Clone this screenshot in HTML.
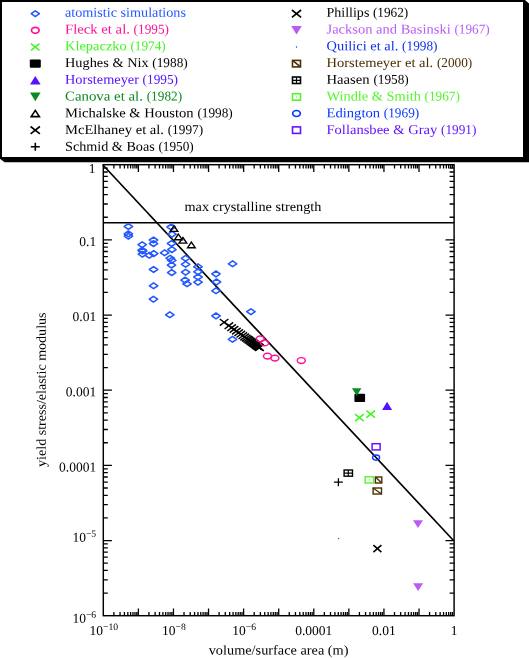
<!DOCTYPE html>
<html><head><meta charset="utf-8"><title>yield stress vs volume/surface area</title>
<style>html,body{margin:0;padding:0;background:#fff}svg{display:block}text{font-family:"Liberation Serif","Times New Roman",serif;font-size:13.5px}.tk{font-size:13.5px}.sup{font-size:9.7px}</style></head><body>
<svg width="529" height="658" viewBox="0 0 529 658">
<rect width="529" height="658" fill="#fff"/>
<polygon points="525,0 529,3.6 529,162.2 4.6,162.2 0,158.8 525,158.8" fill="#000"/>
<rect x="1" y="1" width="523" height="157" fill="#fff" stroke="#000" stroke-width="2"/>
<polygon points="31.2,13.7 35.3,10.8 39.4,13.7 35.3,16.6" fill="none" stroke="#2458ff" stroke-width="1.5" stroke-linejoin="round"/>
<text transform="translate(65.00,16.80) rotate(0.03) scale(1.0515,1)" fill="#2458ff" xml:space="preserve">atomistic simulations</text>
<ellipse cx="35.3" cy="30.3" rx="3.8" ry="3.0" fill="none" stroke="#ff0f96" stroke-width="1.7"/>
<text transform="translate(65.00,33.54) rotate(0.03) scale(1.0892,1)" fill="#ff0f96" xml:space="preserve">Fleck et al. </text><text transform="translate(133.60,33.54) rotate(0.03) scale(0.985,1)" fill="#ff0f96">(1995)</text>
<path d="M31.0 43.6L39.5 50.4M31.0 50.4L39.5 43.6" fill="none" stroke="#44f520" stroke-width="1.55"/>
<text transform="translate(65.00,50.28) rotate(0.03) scale(1.0705,1)" fill="#44f520" xml:space="preserve">Klepaczko </text><text transform="translate(130.40,50.28) rotate(0.03) scale(0.985,1)" fill="#44f520">(1974)</text>
<rect x="29.8" y="59.4" width="11.0" height="8.4" rx="1" fill="#000"/>
<text transform="translate(65.00,67.02) rotate(0.03) scale(1.0631,1)" fill="#000" xml:space="preserve">Hughes &amp; Nix </text><text transform="translate(152.30,67.02) rotate(0.03) scale(0.985,1)" fill="#000">(1988)</text>
<polygon points="35.3,76.0 40.6,84.6 30.0,84.6" fill="#5510ff"/>
<text transform="translate(65.00,83.76) rotate(0.03) scale(1.0616,1)" fill="#5510ff" xml:space="preserve">Horstemeyer </text><text transform="translate(142.60,83.76) rotate(0.03) scale(0.985,1)" fill="#5510ff">(1995)</text>
<polygon points="30.0,92.6 40.6,92.6 35.3,101.2" fill="#0a8a22"/>
<text transform="translate(65.00,100.50) rotate(0.03) scale(1.1007,1)" fill="#0a8a22" xml:space="preserve">Canova et al. </text><text transform="translate(146.70,100.50) rotate(0.03) scale(0.985,1)" fill="#0a8a22">(1982)</text>
<polygon points="35.3,110.4 39.4,116.6 31.2,116.6" fill="none" stroke="#000" stroke-width="1.6" stroke-linejoin="miter"/>
<text transform="translate(65.00,117.24) rotate(0.03) scale(1.0798,1)" fill="#000" xml:space="preserve">Michalske &amp; Houston </text><text transform="translate(197.40,117.24) rotate(0.03) scale(0.985,1)" fill="#000">(1998)</text>
<path d="M30.6 126.5L39.9 133.8M30.6 133.8L39.9 126.5" fill="none" stroke="#000" stroke-width="1.6"/>
<text transform="translate(65.00,133.98) rotate(0.03) scale(1.0786,1)" fill="#000" xml:space="preserve">McElhaney et al. </text><text transform="translate(167.70,133.98) rotate(0.03) scale(0.985,1)" fill="#000">(1997)</text>
<path d="M30.8 146.8H39.8M35.3 142.8V150.8" fill="none" stroke="#000" stroke-width="1.6"/>
<text transform="translate(65.00,150.72) rotate(0.03) scale(1.0509,1)" fill="#000" xml:space="preserve">Schmid &amp; Boas </text><text transform="translate(158.40,150.72) rotate(0.03) scale(0.985,1)" fill="#000">(1950)</text>
<path d="M291.9 10.0L301.1 17.3M291.9 17.3L301.1 10.0" fill="none" stroke="#000" stroke-width="1.6"/>
<text transform="translate(326.50,16.80) rotate(0.03) scale(1.0394,1)" fill="#000" xml:space="preserve">Phillips </text><text transform="translate(372.90,16.80) rotate(0.03) scale(0.985,1)" fill="#000">(1962)</text>
<polygon points="291.2,26.0 301.8,26.0 296.5,34.6" fill="#b85cf5"/>
<text transform="translate(326.50,33.54) rotate(0.03) scale(1.076,1)" fill="#b85cf5" xml:space="preserve">Jackson and Basinski </text><text transform="translate(454.40,33.54) rotate(0.03) scale(0.985,1)" fill="#b85cf5">(1967)</text>
<circle cx="296.5" cy="47.0" r="0.7" fill="#1030e8"/>
<text transform="translate(326.50,50.28) rotate(0.03) scale(1.0726,1)" fill="#1030e8" xml:space="preserve">Quilici et al. </text><text transform="translate(402.10,50.28) rotate(0.03) scale(0.985,1)" fill="#1030e8">(1998)</text>
<rect x="292.5" y="60.4" width="8.0" height="6.5" fill="none" stroke="#4a3005" stroke-width="1.6"/><path d="M292.5 60.4L300.5 66.9" stroke="#4a3005" stroke-width="1.6"/>
<text transform="translate(326.50,67.02) rotate(0.03) scale(1.0749,1)" fill="#4a3005" xml:space="preserve">Horstemeyer et al. </text><text transform="translate(436.90,67.02) rotate(0.03) scale(0.985,1)" fill="#4a3005">(2000)</text>
<rect x="292.5" y="77.0" width="8.0" height="6.5" fill="none" stroke="#000" stroke-width="1.6"/><path d="M292.5 80.3H300.5M296.5 77.0V83.5" stroke="#000" stroke-width="1.2"/>
<text transform="translate(326.50,83.76) rotate(0.03) scale(1.088,1)" fill="#000" xml:space="preserve">Haasen </text><text transform="translate(373.40,83.76) rotate(0.03) scale(0.985,1)" fill="#000">(1958)</text>
<rect x="292.5" y="93.7" width="8.0" height="6.5" fill="none" stroke="#55f52a" stroke-width="1.6"/><circle cx="296.5" cy="96.9" r="0.6" fill="#55f52a"/>
<text transform="translate(326.50,100.50) rotate(0.03) scale(1.0643,1)" fill="#55f52a" xml:space="preserve">Windle &amp; Smith </text><text transform="translate(424.50,100.50) rotate(0.03) scale(0.985,1)" fill="#55f52a">(1967)</text>
<ellipse cx="296.5" cy="113.5" rx="3.8" ry="3.0" fill="none" stroke="#0a38ff" stroke-width="1.7"/>
<text transform="translate(326.50,117.24) rotate(0.03) scale(1.0837,1)" fill="#0a38ff" xml:space="preserve">Edington </text><text transform="translate(383.80,117.24) rotate(0.03) scale(0.985,1)" fill="#0a38ff">(1969)</text>
<rect x="292.5" y="126.9" width="8.0" height="6.5" fill="none" stroke="#6614ff" stroke-width="1.6"/>
<text transform="translate(326.50,133.98) rotate(0.03) scale(1.0791,1)" fill="#6614ff" xml:space="preserve">Follansbee &amp; Gray </text><text transform="translate(440.99,133.98) rotate(0.03) scale(0.985,1)" fill="#6614ff">(1991)</text>
<rect x="103.3" y="164.7" width="350.8" height="451.0" fill="none" stroke="#000" stroke-width="1.45"/>
<path d="M113.86 615.7v-3.7M113.86 164.7v3.7M120.04 615.7v-3.7M120.04 164.7v3.7M124.42 615.7v-3.7M124.42 164.7v3.7M127.82 615.7v-3.7M127.82 164.7v3.7M130.60 615.7v-3.7M130.60 164.7v3.7M132.95 615.7v-3.7M132.95 164.7v3.7M134.98 615.7v-3.7M134.98 164.7v3.7M136.77 615.7v-3.7M136.77 164.7v3.7M138.38 615.7v-7.2M138.38 164.7v7.2M148.94 615.7v-3.7M148.94 164.7v3.7M155.12 615.7v-3.7M155.12 164.7v3.7M159.50 615.7v-3.7M159.50 164.7v3.7M162.90 615.7v-3.7M162.90 164.7v3.7M165.68 615.7v-3.7M165.68 164.7v3.7M168.03 615.7v-3.7M168.03 164.7v3.7M170.06 615.7v-3.7M170.06 164.7v3.7M171.85 615.7v-3.7M171.85 164.7v3.7M173.46 615.7v-7.2M173.46 164.7v7.2M184.02 615.7v-3.7M184.02 164.7v3.7M190.20 615.7v-3.7M190.20 164.7v3.7M194.58 615.7v-3.7M194.58 164.7v3.7M197.98 615.7v-3.7M197.98 164.7v3.7M200.76 615.7v-3.7M200.76 164.7v3.7M203.11 615.7v-3.7M203.11 164.7v3.7M205.14 615.7v-3.7M205.14 164.7v3.7M206.93 615.7v-3.7M206.93 164.7v3.7M208.54 615.7v-7.2M208.54 164.7v7.2M219.10 615.7v-3.7M219.10 164.7v3.7M225.28 615.7v-3.7M225.28 164.7v3.7M229.66 615.7v-3.7M229.66 164.7v3.7M233.06 615.7v-3.7M233.06 164.7v3.7M235.84 615.7v-3.7M235.84 164.7v3.7M238.19 615.7v-3.7M238.19 164.7v3.7M240.22 615.7v-3.7M240.22 164.7v3.7M242.01 615.7v-3.7M242.01 164.7v3.7M243.62 615.7v-7.2M243.62 164.7v7.2M254.18 615.7v-3.7M254.18 164.7v3.7M260.36 615.7v-3.7M260.36 164.7v3.7M264.74 615.7v-3.7M264.74 164.7v3.7M268.14 615.7v-3.7M268.14 164.7v3.7M270.92 615.7v-3.7M270.92 164.7v3.7M273.27 615.7v-3.7M273.27 164.7v3.7M275.30 615.7v-3.7M275.30 164.7v3.7M277.09 615.7v-3.7M277.09 164.7v3.7M278.70 615.7v-7.2M278.70 164.7v7.2M289.26 615.7v-3.7M289.26 164.7v3.7M295.44 615.7v-3.7M295.44 164.7v3.7M299.82 615.7v-3.7M299.82 164.7v3.7M303.22 615.7v-3.7M303.22 164.7v3.7M306.00 615.7v-3.7M306.00 164.7v3.7M308.35 615.7v-3.7M308.35 164.7v3.7M310.38 615.7v-3.7M310.38 164.7v3.7M312.17 615.7v-3.7M312.17 164.7v3.7M313.78 615.7v-7.2M313.78 164.7v7.2M324.34 615.7v-3.7M324.34 164.7v3.7M330.52 615.7v-3.7M330.52 164.7v3.7M334.90 615.7v-3.7M334.90 164.7v3.7M338.30 615.7v-3.7M338.30 164.7v3.7M341.08 615.7v-3.7M341.08 164.7v3.7M343.43 615.7v-3.7M343.43 164.7v3.7M345.46 615.7v-3.7M345.46 164.7v3.7M347.25 615.7v-3.7M347.25 164.7v3.7M348.86 615.7v-7.2M348.86 164.7v7.2M359.42 615.7v-3.7M359.42 164.7v3.7M365.60 615.7v-3.7M365.60 164.7v3.7M369.98 615.7v-3.7M369.98 164.7v3.7M373.38 615.7v-3.7M373.38 164.7v3.7M376.16 615.7v-3.7M376.16 164.7v3.7M378.51 615.7v-3.7M378.51 164.7v3.7M380.54 615.7v-3.7M380.54 164.7v3.7M382.33 615.7v-3.7M382.33 164.7v3.7M383.94 615.7v-7.2M383.94 164.7v7.2M394.50 615.7v-3.7M394.50 164.7v3.7M400.68 615.7v-3.7M400.68 164.7v3.7M405.06 615.7v-3.7M405.06 164.7v3.7M408.46 615.7v-3.7M408.46 164.7v3.7M411.24 615.7v-3.7M411.24 164.7v3.7M413.59 615.7v-3.7M413.59 164.7v3.7M415.62 615.7v-3.7M415.62 164.7v3.7M417.41 615.7v-3.7M417.41 164.7v3.7M419.02 615.7v-7.2M419.02 164.7v7.2M429.58 615.7v-3.7M429.58 164.7v3.7M435.76 615.7v-3.7M435.76 164.7v3.7M440.14 615.7v-3.7M440.14 164.7v3.7M443.54 615.7v-3.7M443.54 164.7v3.7M446.32 615.7v-3.7M446.32 164.7v3.7M448.67 615.7v-3.7M448.67 164.7v3.7M450.70 615.7v-3.7M450.70 164.7v3.7M452.49 615.7v-3.7M452.49 164.7v3.7M103.3 217.24h4.5M454.1 217.24h-4.5M103.3 204.00h4.5M454.1 204.00h-4.5M103.3 194.61h4.5M454.1 194.61h-4.5M103.3 187.33h4.5M454.1 187.33h-4.5M103.3 181.38h4.5M454.1 181.38h-4.5M103.3 176.34h4.5M454.1 176.34h-4.5M103.3 171.98h4.5M454.1 171.98h-4.5M103.3 168.14h4.5M454.1 168.14h-4.5M103.3 239.87h8.6M454.1 239.87h-8.6M103.3 292.41h4.5M454.1 292.41h-4.5M103.3 279.17h4.5M454.1 279.17h-4.5M103.3 269.78h4.5M454.1 269.78h-4.5M103.3 262.49h4.5M454.1 262.49h-4.5M103.3 256.54h4.5M454.1 256.54h-4.5M103.3 251.51h4.5M454.1 251.51h-4.5M103.3 247.15h4.5M454.1 247.15h-4.5M103.3 243.31h4.5M454.1 243.31h-4.5M103.3 315.03h8.6M454.1 315.03h-8.6M103.3 367.57h4.5M454.1 367.57h-4.5M103.3 354.34h4.5M454.1 354.34h-4.5M103.3 344.95h4.5M454.1 344.95h-4.5M103.3 337.66h4.5M454.1 337.66h-4.5M103.3 331.71h4.5M454.1 331.71h-4.5M103.3 326.68h4.5M454.1 326.68h-4.5M103.3 322.32h4.5M454.1 322.32h-4.5M103.3 318.47h4.5M454.1 318.47h-4.5M103.3 390.20h8.6M454.1 390.20h-8.6M103.3 442.74h4.5M454.1 442.74h-4.5M103.3 429.50h4.5M454.1 429.50h-4.5M103.3 420.11h4.5M454.1 420.11h-4.5M103.3 412.83h4.5M454.1 412.83h-4.5M103.3 406.88h4.5M454.1 406.88h-4.5M103.3 401.84h4.5M454.1 401.84h-4.5M103.3 397.48h4.5M454.1 397.48h-4.5M103.3 393.64h4.5M454.1 393.64h-4.5M103.3 465.37h8.6M454.1 465.37h-8.6M103.3 517.91h4.5M454.1 517.91h-4.5M103.3 504.67h4.5M454.1 504.67h-4.5M103.3 495.28h4.5M454.1 495.28h-4.5M103.3 487.99h4.5M454.1 487.99h-4.5M103.3 482.04h4.5M454.1 482.04h-4.5M103.3 477.01h4.5M454.1 477.01h-4.5M103.3 472.65h4.5M454.1 472.65h-4.5M103.3 468.81h4.5M454.1 468.81h-4.5M103.3 540.53h8.6M454.1 540.53h-8.6M103.3 593.07h4.5M454.1 593.07h-4.5M103.3 579.84h4.5M454.1 579.84h-4.5M103.3 570.45h4.5M454.1 570.45h-4.5M103.3 563.16h4.5M454.1 563.16h-4.5M103.3 557.21h4.5M454.1 557.21h-4.5M103.3 552.18h4.5M454.1 552.18h-4.5M103.3 547.82h4.5M454.1 547.82h-4.5M103.3 543.97h4.5M454.1 543.97h-4.5" stroke="#000" stroke-width="1.3" fill="none"/>
<path d="M102.7 164.7L453.5 540.5" stroke="#000" stroke-width="1.65"/>
<path d="M103.3 222.8H454.1" stroke="#000" stroke-width="1.4"/>
<text transform="translate(184.50,210.90) rotate(0.03) scale(1.0558,1)" fill="#000" xml:space="preserve">max crystalline strength</text>
<text class="tk" transform="translate(95.5,172.9) rotate(0.03)" text-anchor="end">1</text>
<text class="tk" transform="translate(96.2,246.0) rotate(0.03)" text-anchor="end">0.1</text>
<text class="tk" transform="translate(96.2,321.1) rotate(0.03)" text-anchor="end">0.01</text>
<text class="tk" transform="translate(96.2,396.3) rotate(0.03)" text-anchor="end">0.001</text>
<text class="tk" transform="translate(96.2,471.5) rotate(0.03)" text-anchor="end">0.0001</text>
<text class="tk" transform="translate(96.2,541.8) rotate(0.03)" text-anchor="end">10<tspan class="sup" dy="-5">−5</tspan></text>
<text class="tk" transform="translate(96.2,622.8) rotate(0.03)" text-anchor="end">10<tspan class="sup" dy="-5">−6</tspan></text>
<text class="tk" transform="translate(103.8,635.0) rotate(0.03)" text-anchor="middle">10<tspan class="sup" dy="-5">−10</tspan></text>
<text class="tk" transform="translate(174.0,635.0) rotate(0.03)" text-anchor="middle">10<tspan class="sup" dy="-5">−8</tspan></text>
<text class="tk" transform="translate(244.1,635.0) rotate(0.03)" text-anchor="middle">10<tspan class="sup" dy="-5">−6</tspan></text>
<text class="tk" transform="translate(313.8,635) rotate(0.03)" text-anchor="middle">0.0001</text>
<text class="tk" transform="translate(383.9,635) rotate(0.03)" text-anchor="middle">0.01</text>
<text class="tk" transform="translate(454.1,635) rotate(0.03)" text-anchor="middle">1</text>
<text transform="translate(208.70,654.40) rotate(0.03) scale(1.06,1)" fill="#000" xml:space="preserve">volume/surface area (m)</text>
<text transform="translate(45.7,466.9) rotate(-89.97) scale(1.0412,1)">yield stress/elastic modulus</text>
<polygon points="138.4,251.0 142.6,248.1 146.8,251.0 142.6,253.9" fill="none" stroke="#2458ff" stroke-width="1.55" stroke-linejoin="round"/>
<polygon points="124.2,226.5 128.4,223.6 132.6,226.5 128.4,229.4" fill="none" stroke="#2458ff" stroke-width="1.55" stroke-linejoin="round"/>
<polygon points="124.2,233.9 128.4,231.0 132.6,233.9 128.4,236.8" fill="none" stroke="#2458ff" stroke-width="1.55" stroke-linejoin="round"/>
<polygon points="124.2,236.2 128.4,233.3 132.6,236.2 128.4,239.1" fill="none" stroke="#2458ff" stroke-width="1.55" stroke-linejoin="round"/>
<polygon points="138.0,244.7 142.2,241.8 146.4,244.7 142.2,247.6" fill="none" stroke="#2458ff" stroke-width="1.55" stroke-linejoin="round"/>
<polygon points="138.0,250.2 142.2,247.3 146.4,250.2 142.2,253.1" fill="none" stroke="#2458ff" stroke-width="1.55" stroke-linejoin="round"/>
<polygon points="138.2,254.2 142.4,251.3 146.6,254.2 142.4,257.1" fill="none" stroke="#2458ff" stroke-width="1.55" stroke-linejoin="round"/>
<polygon points="145.1,255.3 149.3,252.4 153.5,255.3 149.3,258.2" fill="none" stroke="#2458ff" stroke-width="1.55" stroke-linejoin="round"/>
<polygon points="149.3,240.0 153.5,237.1 157.7,240.0 153.5,242.9" fill="none" stroke="#2458ff" stroke-width="1.55" stroke-linejoin="round"/>
<polygon points="149.3,243.6 153.5,240.7 157.7,243.6 153.5,246.5" fill="none" stroke="#2458ff" stroke-width="1.55" stroke-linejoin="round"/>
<polygon points="149.5,253.6 153.7,250.7 157.9,253.6 153.7,256.5" fill="none" stroke="#2458ff" stroke-width="1.55" stroke-linejoin="round"/>
<polygon points="149.4,269.5 153.6,266.6 157.8,269.5 153.6,272.4" fill="none" stroke="#2458ff" stroke-width="1.55" stroke-linejoin="round"/>
<polygon points="149.4,285.8 153.6,282.9 157.8,285.8 153.6,288.7" fill="none" stroke="#2458ff" stroke-width="1.55" stroke-linejoin="round"/>
<polygon points="149.2,299.2 153.4,296.3 157.6,299.2 153.4,302.1" fill="none" stroke="#2458ff" stroke-width="1.55" stroke-linejoin="round"/>
<polygon points="160.4,252.8 164.6,249.9 168.8,252.8 164.6,255.7" fill="none" stroke="#2458ff" stroke-width="1.55" stroke-linejoin="round"/>
<polygon points="167.0,227.0 171.2,224.1 175.4,227.0 171.2,229.9" fill="none" stroke="#2458ff" stroke-width="1.55" stroke-linejoin="round"/>
<polygon points="167.8,234.2 172.0,231.3 176.2,234.2 172.0,237.1" fill="none" stroke="#2458ff" stroke-width="1.55" stroke-linejoin="round"/>
<polygon points="167.4,243.5 171.6,240.6 175.8,243.5 171.6,246.4" fill="none" stroke="#2458ff" stroke-width="1.55" stroke-linejoin="round"/>
<polygon points="167.7,249.6 171.9,246.7 176.1,249.6 171.9,252.5" fill="none" stroke="#2458ff" stroke-width="1.55" stroke-linejoin="round"/>
<polygon points="166.0,258.2 170.2,255.3 174.4,258.2 170.2,261.1" fill="none" stroke="#2458ff" stroke-width="1.55" stroke-linejoin="round"/>
<polygon points="167.6,260.3 171.8,257.4 176.0,260.3 171.8,263.2" fill="none" stroke="#2458ff" stroke-width="1.55" stroke-linejoin="round"/>
<polygon points="167.3,265.1 171.5,262.2 175.7,265.1 171.5,268.0" fill="none" stroke="#2458ff" stroke-width="1.55" stroke-linejoin="round"/>
<polygon points="167.5,272.6 171.7,269.7 175.9,272.6 171.7,275.5" fill="none" stroke="#2458ff" stroke-width="1.55" stroke-linejoin="round"/>
<polygon points="181.4,258.3 185.6,255.4 189.8,258.3 185.6,261.2" fill="none" stroke="#2458ff" stroke-width="1.55" stroke-linejoin="round"/>
<polygon points="181.4,264.3 185.6,261.4 189.8,264.3 185.6,267.2" fill="none" stroke="#2458ff" stroke-width="1.55" stroke-linejoin="round"/>
<polygon points="181.4,272.2 185.6,269.3 189.8,272.2 185.6,275.1" fill="none" stroke="#2458ff" stroke-width="1.55" stroke-linejoin="round"/>
<polygon points="180.9,280.1 185.1,277.2 189.3,280.1 185.1,283.0" fill="none" stroke="#2458ff" stroke-width="1.55" stroke-linejoin="round"/>
<polygon points="182.8,283.8 187.0,280.9 191.2,283.8 187.0,286.7" fill="none" stroke="#2458ff" stroke-width="1.55" stroke-linejoin="round"/>
<polygon points="193.8,266.8 198.0,263.9 202.2,266.8 198.0,269.7" fill="none" stroke="#2458ff" stroke-width="1.55" stroke-linejoin="round"/>
<polygon points="193.8,271.8 198.0,268.9 202.2,271.8 198.0,274.7" fill="none" stroke="#2458ff" stroke-width="1.55" stroke-linejoin="round"/>
<polygon points="193.8,277.0 198.0,274.1 202.2,277.0 198.0,279.9" fill="none" stroke="#2458ff" stroke-width="1.55" stroke-linejoin="round"/>
<polygon points="193.8,282.2 198.0,279.3 202.2,282.2 198.0,285.1" fill="none" stroke="#2458ff" stroke-width="1.55" stroke-linejoin="round"/>
<polygon points="211.8,273.9 216.0,271.0 220.2,273.9 216.0,276.8" fill="none" stroke="#2458ff" stroke-width="1.55" stroke-linejoin="round"/>
<polygon points="212.3,281.9 216.5,279.0 220.7,281.9 216.5,284.8" fill="none" stroke="#2458ff" stroke-width="1.55" stroke-linejoin="round"/>
<polygon points="211.8,290.8 216.0,287.9 220.2,290.8 216.0,293.7" fill="none" stroke="#2458ff" stroke-width="1.55" stroke-linejoin="round"/>
<polygon points="228.4,263.8 232.6,260.9 236.8,263.8 232.6,266.7" fill="none" stroke="#2458ff" stroke-width="1.55" stroke-linejoin="round"/>
<polygon points="246.7,311.7 250.9,308.8 255.1,311.7 250.9,314.6" fill="none" stroke="#2458ff" stroke-width="1.55" stroke-linejoin="round"/>
<polygon points="211.8,315.9 216.0,313.0 220.2,315.9 216.0,318.8" fill="none" stroke="#2458ff" stroke-width="1.55" stroke-linejoin="round"/>
<polygon points="165.6,314.8 169.8,311.9 174.0,314.8 169.8,317.7" fill="none" stroke="#2458ff" stroke-width="1.55" stroke-linejoin="round"/>
<polygon points="228.3,339.3 232.5,336.4 236.7,339.3 232.5,342.2" fill="none" stroke="#2458ff" stroke-width="1.55" stroke-linejoin="round"/>
<path d="M219.8 319.0L228.4 325.6M219.8 325.6L228.4 319.0" fill="none" stroke="#000" stroke-width="1.45"/>
<path d="M224.6 322.4L233.2 329.0M224.6 329.0L233.2 322.4" fill="none" stroke="#000" stroke-width="1.45"/>
<path d="M227.3 324.4L235.9 331.0M227.3 331.0L235.9 324.4" fill="none" stroke="#000" stroke-width="1.45"/>
<path d="M229.7 326.1L238.3 332.7M229.7 332.7L238.3 326.1" fill="none" stroke="#000" stroke-width="1.45"/>
<path d="M232.1 327.8L240.7 334.4M232.1 334.4L240.7 327.8" fill="none" stroke="#000" stroke-width="1.45"/>
<path d="M234.4 329.4L243.0 336.0M234.4 336.0L243.0 329.4" fill="none" stroke="#000" stroke-width="1.45"/>
<path d="M236.5 330.9L245.1 337.5M236.5 337.5L245.1 330.9" fill="none" stroke="#000" stroke-width="1.45"/>
<path d="M238.5 332.4L247.1 339.0M238.5 339.0L247.1 332.4" fill="none" stroke="#000" stroke-width="1.45"/>
<path d="M240.3 333.7L248.9 340.3M240.3 340.3L248.9 333.7" fill="none" stroke="#000" stroke-width="1.45"/>
<path d="M241.9 334.8L250.5 341.4M241.9 341.4L250.5 334.8" fill="none" stroke="#000" stroke-width="1.45"/>
<path d="M243.3 335.8L251.9 342.4M243.3 342.4L251.9 335.8" fill="none" stroke="#000" stroke-width="1.45"/>
<path d="M244.6 336.7L253.2 343.3M244.6 343.3L253.2 336.7" fill="none" stroke="#000" stroke-width="1.45"/>
<path d="M245.8 337.6L254.4 344.2M245.8 344.2L254.4 337.6" fill="none" stroke="#000" stroke-width="1.45"/>
<path d="M246.9 338.4L255.5 345.0M246.9 345.0L255.5 338.4" fill="none" stroke="#000" stroke-width="1.45"/>
<path d="M247.9 339.1L256.5 345.7M247.9 345.7L256.5 339.1" fill="none" stroke="#000" stroke-width="1.45"/>
<path d="M248.8 339.7L257.4 346.3M248.8 346.3L257.4 339.7" fill="none" stroke="#000" stroke-width="1.45"/>
<path d="M249.7 340.4L258.3 347.0M249.7 347.0L258.3 340.4" fill="none" stroke="#000" stroke-width="1.45"/>
<path d="M250.6 341.0L259.2 347.6M250.6 347.6L259.2 341.0" fill="none" stroke="#000" stroke-width="1.45"/>
<path d="M251.4 341.6L260.0 348.2M251.4 348.2L260.0 341.6" fill="none" stroke="#000" stroke-width="1.45"/>
<path d="M252.2 342.2L260.8 348.8M252.2 348.8L260.8 342.2" fill="none" stroke="#000" stroke-width="1.45"/>
<path d="M253.0 342.7L261.6 349.3M253.0 349.3L261.6 342.7" fill="none" stroke="#000" stroke-width="1.45"/>
<path d="M253.8 343.3L262.4 349.9M253.8 349.9L262.4 343.3" fill="none" stroke="#000" stroke-width="1.45"/>
<path d="M254.6 343.9L263.2 350.5M254.6 350.5L263.2 343.9" fill="none" stroke="#000" stroke-width="1.45"/>
<path d="M255.2 344.3L263.8 350.9M255.2 350.9L263.8 344.3" fill="none" stroke="#000" stroke-width="1.45"/>
<polygon points="174.0,225.8 177.8,231.4 170.2,231.4" fill="none" stroke="#000" stroke-width="1.4" stroke-linejoin="miter"/>
<polygon points="178.4,234.1 182.2,239.7 174.6,239.7" fill="none" stroke="#000" stroke-width="1.4" stroke-linejoin="miter"/>
<polygon points="182.9,237.5 186.7,243.1 179.1,243.1" fill="none" stroke="#000" stroke-width="1.4" stroke-linejoin="miter"/>
<polygon points="191.4,242.1 195.2,247.7 187.6,247.7" fill="none" stroke="#000" stroke-width="1.4" stroke-linejoin="miter"/>
<ellipse cx="260.3" cy="338.9" rx="4.0" ry="2.9" fill="none" stroke="#ff0f96" stroke-width="1.45"/>
<ellipse cx="264.6" cy="342.9" rx="4.0" ry="2.9" fill="none" stroke="#ff0f96" stroke-width="1.45"/>
<ellipse cx="267.5" cy="356.1" rx="4.0" ry="2.9" fill="none" stroke="#ff0f96" stroke-width="1.45"/>
<ellipse cx="274.9" cy="358.1" rx="4.0" ry="2.9" fill="none" stroke="#ff0f96" stroke-width="1.45"/>
<ellipse cx="301.3" cy="360.5" rx="4.0" ry="2.9" fill="none" stroke="#ff0f96" stroke-width="1.45"/>
<rect x="354.4" y="393.8" width="10.7" height="8.1" rx="1" fill="#000"/>
<polygon points="352.0,388.2 361.4,388.2 356.7,395.8" fill="#0a8a22"/>
<path d="M355.1 414.2L363.7 421.2M355.1 421.2L363.7 414.2" fill="none" stroke="#44f520" stroke-width="1.6"/>
<path d="M366.4 410.7L375.0 417.7M366.4 417.7L375.0 410.7" fill="none" stroke="#44f520" stroke-width="1.6"/>
<polygon points="387.1,401.8 392.1,409.9 382.1,409.9" fill="#5510ff"/>
<rect x="372.1" y="443.7" width="8.0" height="6.2" fill="none" stroke="#6614ff" stroke-width="1.5"/>
<ellipse cx="376.1" cy="457.6" rx="3.5" ry="2.6" fill="none" stroke="#0a38ff" stroke-width="1.4"/>
<rect x="344.1" y="470.0" width="8.4" height="6.2" fill="none" stroke="#000" stroke-width="1.4"/><path d="M344.1 473.1H352.5M348.3 470.0V476.2" stroke="#000" stroke-width="1.2"/>
<path d="M333.9 482.2H342.9M338.4 478.2V486.2" fill="none" stroke="#000" stroke-width="1.3"/>
<rect x="365.1" y="476.8" width="8.4" height="6.2" fill="none" stroke="#55f52a" stroke-width="1.4"/><circle cx="369.3" cy="479.9" r="0.6" fill="#55f52a"/>
<rect x="375.4" y="477.0" width="6.4" height="6.0" fill="none" stroke="#4a3005" stroke-width="1.4"/><path d="M375.4 477.0L381.8 483.0" stroke="#4a3005" stroke-width="1.4"/>
<rect x="373.1" y="488.0" width="8.4" height="6.0" fill="none" stroke="#4a3005" stroke-width="1.4"/><path d="M373.1 488.0L381.5 494.0" stroke="#4a3005" stroke-width="1.4"/>
<circle cx="338.6" cy="538.6" r="0.7" fill="#1030e8"/>
<path d="M373.4 545.1L381.4 552.1M373.4 552.1L381.4 545.1" fill="none" stroke="#000" stroke-width="1.6"/>
<polygon points="413.0,520.2 423.0,520.2 418.0,528.0" fill="#b85cf5"/>
<polygon points="413.1,583.2 423.1,583.2 418.1,591.0" fill="#b85cf5"/>
</svg></body></html>
